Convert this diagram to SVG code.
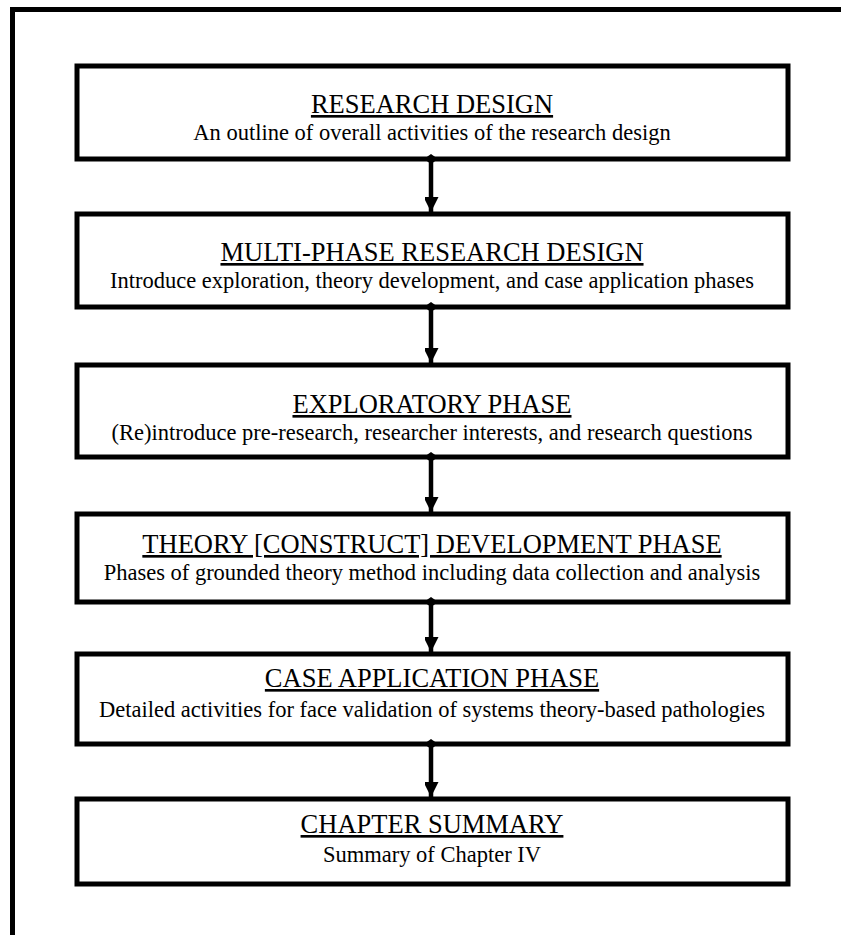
<svg xmlns="http://www.w3.org/2000/svg" width="841" height="935" viewBox="0 0 841 935">
  <style>
    .frame { fill: none; stroke: #000; stroke-width: 5; }
    .box { fill: #fff; stroke: #000; stroke-width: 5; }
    .title { font-family: "Liberation Serif", "Times New Roman", serif; font-size: 26.5px; text-anchor: middle; fill: #000; text-decoration: underline; }
    .sub { font-family: "Liberation Serif", "Times New Roman", serif; font-size: 22.5px; text-anchor: middle; fill: #000; }
    .link { stroke: #000; stroke-width: 4.5; fill: none; marker-start: url(#diamond); marker-end: url(#head); }
  </style>
  <defs>
    <marker id="diamond" viewBox="0 0 10 14" refX="5" refY="7" markerWidth="10" markerHeight="14" markerUnits="userSpaceOnUse" orient="auto-start-reverse">
      <path d="M5 0 L10 7 L5 14 L0 7 Z" fill="#000"/>
    </marker>
    <marker id="head" viewBox="0 0 15 14" refX="15" refY="7.5" markerWidth="15" markerHeight="14" markerUnits="userSpaceOnUse" orient="auto">
      <path d="M0 0 L15 7.5 L0 15 Z" fill="#000"/>
    </marker>
  </defs>

  <rect width="841" height="935" fill="#fff"/>
  <!-- outer frame, running past the right and bottom edges -->
  <rect class="frame" x="12.5" y="9.5" width="860" height="960"/>

  <g id="research-design">
    <rect class="box" x="77" y="66" width="711" height="93"/>
    <text class="title" x="432" y="113">RESEARCH DESIGN</text>
    <text class="sub" x="432" y="140">An outline of overall activities of the research design</text>
  </g>

  <g id="multi-phase">
    <rect class="box" x="77" y="214" width="711" height="93"/>
    <text class="title" x="432" y="261">MULTI-PHASE RESEARCH DESIGN</text>
    <text class="sub" x="432" y="288">Introduce exploration, theory development, and case application phases</text>
  </g>

  <g id="exploratory">
    <rect class="box" x="77" y="365" width="711" height="92"/>
    <text class="title" x="432" y="413">EXPLORATORY PHASE</text>
    <text class="sub" x="432" y="440">(Re)introduce pre-research, researcher interests, and research questions</text>
  </g>

  <g id="theory-development">
    <rect class="box" x="77" y="514" width="711" height="88"/>
    <text class="title" x="432" y="553">THEORY [CONSTRUCT] DEVELOPMENT PHASE</text>
    <text class="sub" x="432" y="580">Phases of grounded theory method including data collection and analysis</text>
  </g>

  <g id="case-application">
    <rect class="box" x="77" y="654" width="711" height="90"/>
    <text class="title" x="432" y="687">CASE APPLICATION PHASE</text>
    <text class="sub" x="432" y="717">Detailed activities for face validation of systems theory-based pathologies</text>
  </g>

  <g id="chapter-summary">
    <rect class="box" x="77" y="799" width="711" height="85"/>
    <text class="title" x="432" y="833">CHAPTER SUMMARY</text>
    <text class="sub" x="432" y="862">Summary of Chapter IV</text>
  </g>

  <g id="connectors">
    <path class="link" d="M431 159 V212"/>
    <path class="link" d="M431 307 V363"/>
    <path class="link" d="M431 457 V512"/>
    <path class="link" d="M431 602 V652"/>
    <path class="link" d="M431 744 V797"/>
  </g>
</svg>
